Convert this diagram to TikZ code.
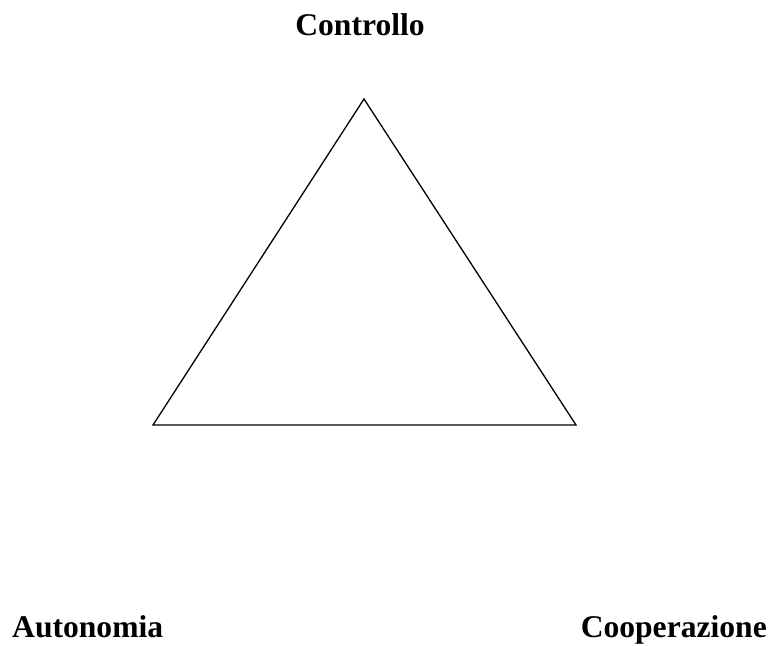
\documentclass[tikz,border=0pt]{standalone}
\usepackage{fontspec}
\setmainfont{Liberation Serif}
\begin{document}
\begin{tikzpicture}[x=1pt,y=-1pt,
  lbl/.style={inner sep=0pt,font=\fontsize{31.6}{36}\selectfont\bfseries},
  edge/.style={line width=1.3pt,line join=miter}]
\useasboundingbox (0,0) rectangle (768,645);
\coordinate (top) at (364,99);
\coordinate (bl) at (153,425);
\coordinate (br) at (576,425);
\draw[edge] (top) -- (bl) -- (br) -- cycle;
\node[lbl,anchor=base] (ctrl) at (360,35) {Controllo};
\node[lbl,anchor=base west] (auto) at (12,637) {Autonomia};
\node[lbl,anchor=base east] (coop) at (767,637) {Cooperazione};
\end{tikzpicture}
\end{document}
